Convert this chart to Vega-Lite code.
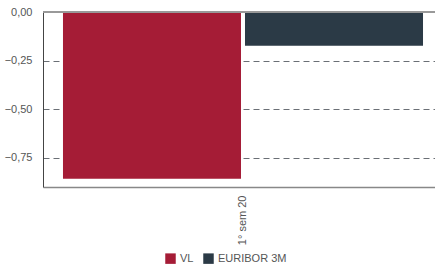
{
  "$schema": "https://vega.github.io/schema/vega-lite/v6.json",
  "width": 392,
  "height": 175,
  "autosize": "none",
  "padding": {"left": 43, "top": 12, "right": 0, "bottom": 78},
  "config": {"view": {"stroke": null}, "font": "Liberation Sans"},
  "data": {"values": [
    {"period": "1° sem 20", "series": "VL", "value": -0.858},
    {"period": "1° sem 20", "series": "EURIBOR 3M", "value": -0.173}
  ]},
  "layer": [
    {
      "mark": {"type": "bar"},
      "encoding": {
        "x": {"field": "period", "type": "nominal", "scale": {"paddingInner": 0, "paddingOuter": 0.0444, "align": 0.625},
          "axis": {"title": null, "labelAngle": -90, "labelFontSize": 11, "labelColor": "#555", "ticks": false, "domainColor": "#888", "domainWidth": 1.5, "labelPadding": 8}},
        "xOffset": {"field": "series", "type": "nominal", "sort": ["VL", "EURIBOR 3M"], "scale": {"paddingInner": 0.022}},
        "y": {"field": "value", "type": "quantitative", "scale": {"domain": [-0.9, 0], "nice": false},
          "axis": {"title": null, "values": [0, -0.25, -0.5, -0.75], "labelExpr": "replace(format(datum.value, '.2f'), '.', ',')", "labelFontSize": 11, "labelColor": "#555", "ticks": false, "labelPadding": 11, "domainColor": "#444", "grid": true, "gridDash": [6, 4], "gridColor": "#6a6f75", "gridWidth": 1}},
        "color": {"field": "series", "type": "nominal", "sort": ["VL", "EURIBOR 3M"],
          "scale": {"domain": ["VL", "EURIBOR 3M"], "range": ["#A51C36", "#2B3A46"]},
          "legend": {"title": null, "orient": "none", "legendX": 122, "legendY": 241, "direction": "horizontal", "symbolType": "square", "symbolSize": 110, "symbolStrokeWidth": 0, "labelFontSize": 11, "labelColor": "#555", "columnPadding": 9, "labelOffset": 4}}
      }
    },
    {
      "mark": {"type": "rule", "color": "#999", "strokeWidth": 2},
      "encoding": {"y": {"datum": 0}}
    }
  ]
}
